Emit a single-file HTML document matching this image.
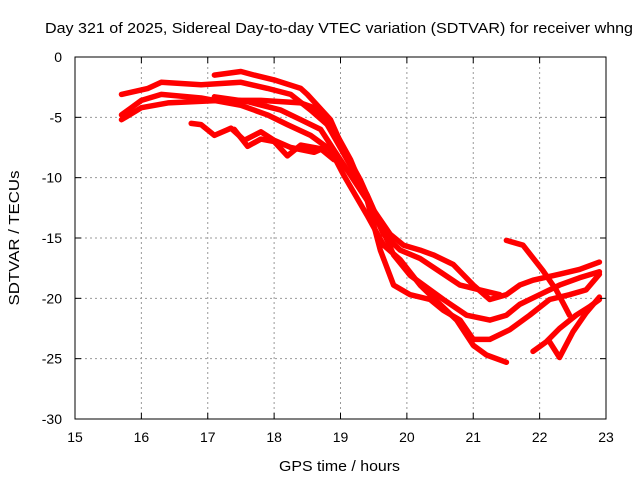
<!DOCTYPE html>
<html><head><meta charset="utf-8"><style>
body{margin:0;background:#fff;}
svg{display:block;font-family:"Liberation Sans",sans-serif;}
</style></head><body>
<svg id="chart" width="640" height="480" xmlns="http://www.w3.org/2000/svg">
<rect width="640" height="480" fill="#fff"/>
<text x="45" y="33" font-size="15" textLength="588" lengthAdjust="spacingAndGlyphs">Day 321 of 2025, Sidereal Day-to-day VTEC variation (SDTVAR) for receiver whng</text>
<g id="grid"></g>
<g id="series"></g>
<rect x="75" y="57" width="531" height="362" fill="none" stroke="#000" stroke-width="1"/>
<g id="ticks"></g>
<text x="279" y="471" font-size="15" textLength="121" lengthAdjust="spacingAndGlyphs">GPS time / hours</text>
<text x="0" y="0" font-size="15" text-anchor="middle" textLength="135" lengthAdjust="spacingAndGlyphs" transform="translate(19,238) rotate(-90)">SDTVAR / TECUs</text>
</svg>
<script>
const xTicks=[15,16,17,18,19,20,21,22,23];
const yTicks=[0,-5,-10,-15,-20,-25,-30];
const sAx=[17.1,17.5,17.7,18.0,18.4,18.5,18.85,19.05,19.3,19.5,19.75,19.95,20.2,20.4,20.7,21.0,21.25,21.5,21.7,21.9,22.3,22.6,22.9];
const sAy=[-1.5,-1.2,-1.5,-1.9,-2.6,-3.1,-5.2,-7.7,-10.2,-12.7,-14.7,-15.6,-16,-16.4,-17.2,-18.9,-20.1,-19.7,-18.9,-18.5,-18,-17.6,-17];
const sBx=[15.7,16.1,16.3,16.9,17.5,17.9,18.25,18.55,18.8,19.1,19.4,19.6,19.8,20.05,20.35,20.55,20.9,21.25,21.5,21.7,22.0,22.3,22.6,22.9];
const sBy=[-3.1,-2.6,-2.1,-2.3,-2.1,-2.6,-3.1,-4.4,-5.6,-8.5,-11.4,-13.9,-16.4,-18.1,-19.3,-20.1,-21.4,-21.8,-21.4,-20.5,-19.7,-18.9,-18.3,-17.8];
const sCx=[15.7,16.0,16.4,17.2,17.8,18.4,18.6,18.9,19.15,19.4,19.6,19.8,20.05,20.35,20.55,20.8,21.0,21.25,21.55,21.85,22.15,22.45,22.7,22.9];
const sCy=[-5.2,-4.2,-3.8,-3.6,-3.6,-3.8,-4.2,-6,-8.5,-11.8,-16,-18.9,-19.7,-20.1,-21,-21.8,-23.4,-23.4,-22.6,-21.4,-20.1,-19.7,-19.3,-18];
const sDx=[15.7,16.0,16.3,16.9,17.5,17.9,18.2,18.55,18.85,19.05,19.4,19.65,19.9,20.2,20.5,20.75,21.0,21.2,21.5];
const sDy=[-4.8,-3.6,-3.1,-3.4,-4.0,-4.8,-5.6,-6.5,-7.7,-9.8,-13.1,-15.6,-16.8,-18.9,-20.5,-21.8,-23.9,-24.7,-25.3];
const sEx=[17.1,17.6,18.1,18.4,18.7,18.9,19.2,19.45,19.65,19.9,20.2,20.5,20.8,21.1,21.4];
const sEy=[-3.3,-3.7,-4.4,-5.2,-6,-7.7,-10.2,-12.3,-14.7,-16,-16.7,-17.8,-18.9,-19.3,-19.7];
const sFx=[16.75,16.9,17.1,17.35,17.55,17.8,18.0,18.25,18.6,18.85];
const sFy=[-5.5,-5.6,-6.5,-5.9,-6.9,-6.2,-6.9,-7.5,-7.9,-7.3];
const sGx=[17.4,17.6,17.8,18.0,18.2,18.4,18.7,18.9];
const sGy=[-6,-7.4,-6.8,-7,-8.2,-7.3,-7.6,-8.5];
const sHx=[21.5,21.75,22.05,22.25,22.45];
const sHy=[-15.2,-15.6,-17.7,-19.3,-21.4];
const sIx=[21.9,22.1,22.3,22.55,22.75,22.9];
const sIy=[-24.4,-23.6,-22.5,-21.4,-20.7,-20.1];
const sJx=[22.15,22.3,22.5,22.7,22.9];
const sJy=[-23.6,-24.9,-22.8,-21.2,-19.9];
const seriesX=[sAx,sBx,sCx,sDx,sEx,sFx,sGx,sHx,sIx,sJx];
const seriesY=[sAy,sBy,sCy,sDy,sEy,sFy,sGy,sHy,sIy,sJy];

const NS="http://www.w3.org/2000/svg";
const X0=75,X1=606,Y0=57,Y1=419;
function xs(v){return X0+(v-15)/8*(X1-X0);}
function ys(v){return Y0+(0-v)/30*(Y1-Y0);}
const grid=document.getElementById('grid'),ticks=document.getElementById('ticks'),sg=document.getElementById('series');
function mk(tag,attrs,parent){const e=document.createElementNS(NS,tag);for(const k in attrs)e.setAttribute(k,attrs[k]);parent.appendChild(e);return e;}
xTicks.forEach(t=>{
  const x=xs(t);
  if(t>15&&t<23){const g=mk('line',{x1:x,x2:x,y1:Y0,y2:Y1,stroke:'#999','stroke-dasharray':'2,3'},grid);
  
  }
  mk('line',{x1:x,x2:x,y1:Y1,y2:Y1-6,stroke:'#000'},ticks);
  mk('line',{x1:x,x2:x,y1:Y0,y2:Y0+6,stroke:'#000'},ticks);
  const l=mk('text',{x:x,y:442,'font-size':14,'text-anchor':'middle'},ticks);
  l.textContent=t;
  
  
});
yTicks.forEach(t=>{
  const y=ys(t);
  if(t<0&&t>-30){const g=mk('line',{x1:X0,x2:X1,y1:y,y2:y,stroke:'#999','stroke-dasharray':'2,3'},grid);
  
  }
  mk('line',{x1:X0,x2:X0+6,y1:y,y2:y,stroke:'#000'},ticks);
  mk('line',{x1:X1,x2:X1-6,y1:y,y2:y,stroke:'#000'},ticks);
  const l=mk('text',{x:62,y:y+5,'font-size':14,'text-anchor':'end'},ticks);
  l.textContent=t;
  
  
});
seriesX.forEach((sx,i)=>{
  const sy=seriesY[i];
  const pts=sx.map((v,j)=>xs(v).toFixed(1)+','+ys(sy[j]).toFixed(1)).join(' ');
  const p=mk('polyline',{points:pts,fill:'none',stroke:'#f00','stroke-width':5.5,'stroke-linejoin':'round','stroke-linecap':'round'},sg);
  
  
});
</script>
</body></html>
